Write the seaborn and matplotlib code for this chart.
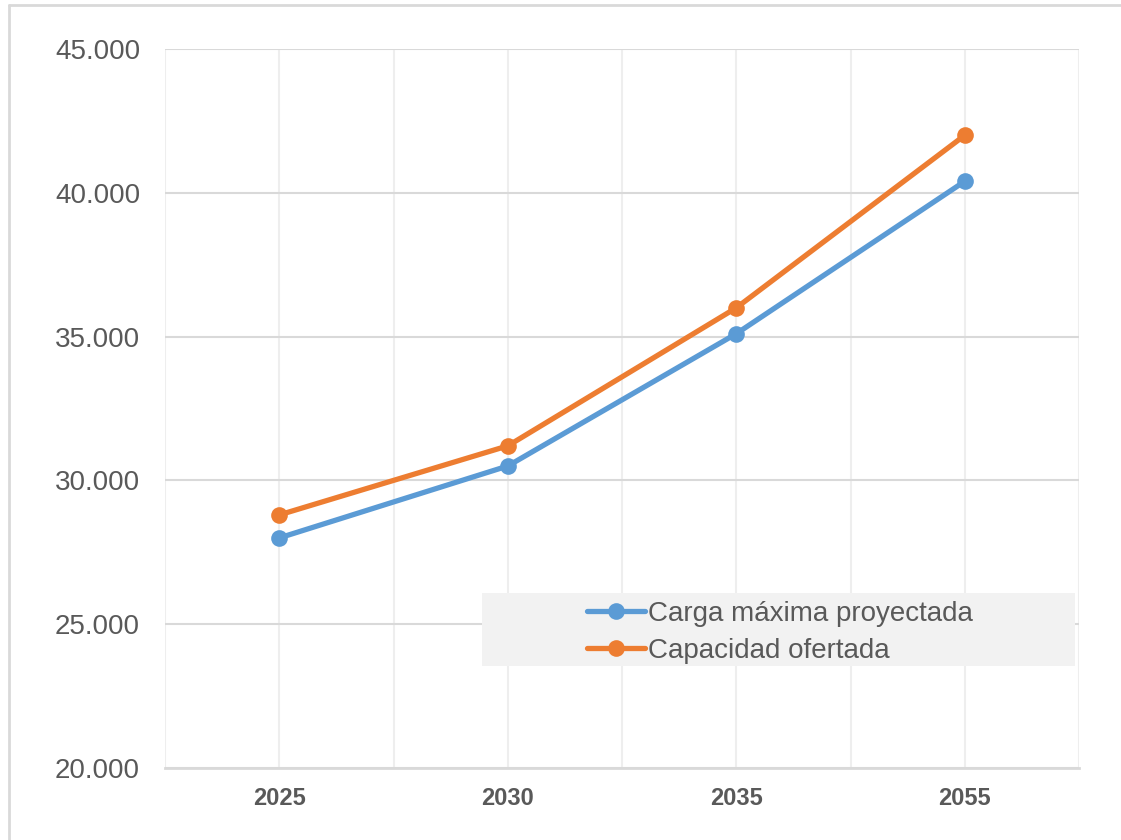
import numpy as np
import pandas as pd
import matplotlib
matplotlib.use("Agg")
import matplotlib.pyplot as plt
from matplotlib.lines import Line2D
from matplotlib.patches import Rectangle
from matplotlib.ticker import FuncFormatter
import seaborn as sns

years = ["2025", "2030", "2035", "2055"]
carga_maxima = [28000, 30500, 35100, 40400]
capacidad_ofertada = [28800, 31200, 36000, 42000]
series_names = ["Carga máxima proyectada", "Capacidad ofertada"]
series_colors = ["#5b9bd5", "#ed7d31"]

df = pd.DataFrame({
    "pos": list(range(len(years))) * 2,
    "year": years * 2,
    "valor": carga_maxima + capacidad_ofertada,
    "serie": [series_names[0]] * len(years) + [series_names[1]] * len(years),
})

sns.set_theme(style="white")
plt.rcParams["font.family"] = ["Liberation Sans", "DejaVu Sans"]

text_color = "#595959"
grid_color = "#d9d9d9"

fig = plt.figure(figsize=(11.21, 8.40), dpi=100)
ax = fig.add_axes([165 / 1121, 72 / 840, 914 / 1121, 719 / 840])

sns.lineplot(
    data=df, x="pos", y="valor", hue="serie", hue_order=series_names,
    palette=series_colors, marker="o", markersize=12, linewidth=3.8,
    markeredgewidth=0, sort=False, ax=ax, legend=False, zorder=3,
)

ax.set_xlim(-0.5, len(years) - 0.5)
ax.set_ylim(20000, 45000)
ax.set_yticks(np.arange(20000, 45001, 5000))
ax.yaxis.set_major_formatter(FuncFormatter(lambda v, p: f"{int(v):,}".replace(",", ".")))
ax.set_xticks(range(len(years)))
ax.set_xticklabels(years, fontsize=17, fontweight="bold", color=text_color)
ax.set_xticks(np.arange(-0.5, len(years), 1.0), minor=True)
ax.tick_params(axis="y", labelsize=20, labelcolor=text_color, length=0, pad=18)
ax.tick_params(axis="x", which="both", length=0, pad=14)
ax.set_xlabel("")
ax.set_ylabel("")

ax.grid(False)
ax.yaxis.grid(True, color=grid_color, linewidth=1.5, zorder=0)
ax.xaxis.grid(True, which="both", color="#eeeeee", linewidth=1.5, zorder=0)
ax.set_axisbelow(True)

for side in ["top", "right", "left"]:
    ax.spines[side].set_visible(False)
ax.spines["bottom"].set_color(grid_color)
ax.spines["bottom"].set_linewidth(2)

# legend panel
ax.add_patch(Rectangle((0.3468, 0.1419), 0.6488, 0.1015, transform=ax.transAxes,
                       facecolor="#f2f2f2", edgecolor="none", zorder=2))
handles = [Line2D([], [], color=c, linewidth=3.8, marker="o", markersize=12,
                  markeredgewidth=0) for c in series_colors]
leg = ax.legend(handles, series_names, loc="center", bbox_to_anchor=(0.673, 0.1885),
                frameon=False, fontsize=20, handlelength=2.1, handletextpad=0.1,
                labelspacing=0.38, borderpad=0)
for t in leg.get_texts():
    t.set_color(text_color)
leg.set_zorder(4)

# outer chart border
fig.add_artist(Line2D([8.5 / 1121, 8.5 / 1121], [0, 1 - 5 / 840], transform=fig.transFigure,
                      color=grid_color, linewidth=2))
fig.add_artist(Line2D([8.5 / 1121, 1], [1 - 5 / 840, 1 - 5 / 840], transform=fig.transFigure,
                      color=grid_color, linewidth=2))

fig.savefig("out.png", dpi=100, facecolor="white")
